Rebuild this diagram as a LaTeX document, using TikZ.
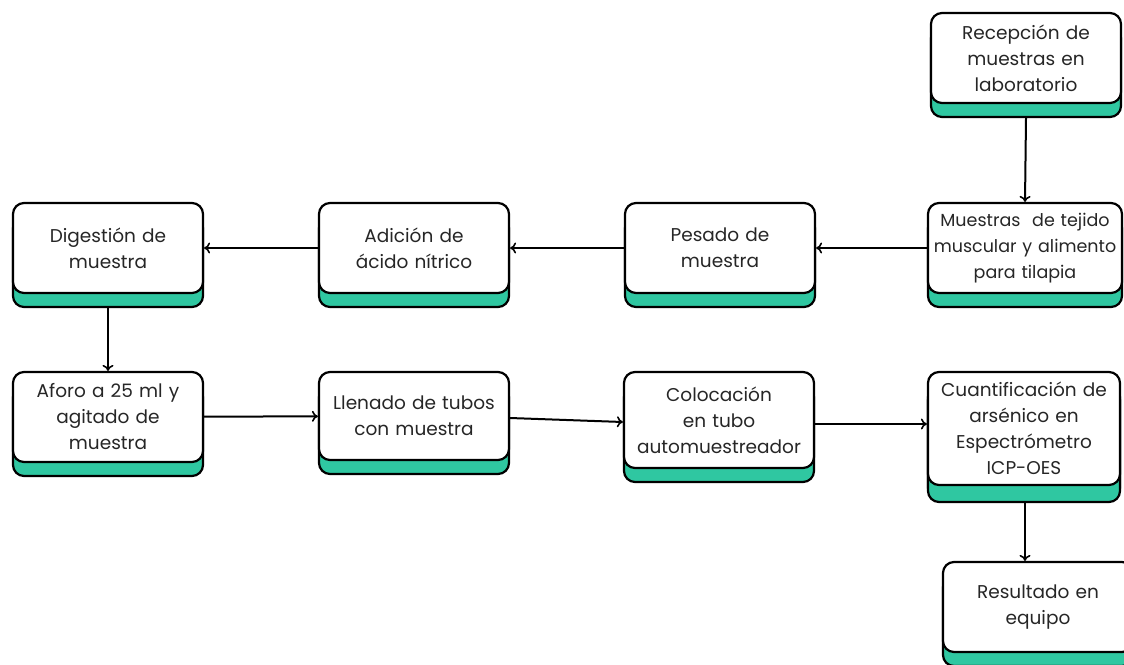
\documentclass[tikz,border=0pt]{standalone}
\usepackage{fontspec}
\setmainfont{Poppins}
\usetikzlibrary{arrows.meta,shadows}
\definecolor{tealbase}{RGB}{47,199,161}
\begin{document}
\begin{tikzpicture}[x=1pt,y=-1pt,
        paso/.style={draw, line width=2.2pt, rounded corners=11pt, fill=white, align=center,
        text width=190pt, minimum width=190pt, minimum height=90pt, inner sep=0pt,
        font=\fontsize{18.5}{26}\selectfont\color{black!85},
        general shadow={fill=tealbase, draw=black, line width=2.2pt, shadow yshift=-14pt}},
        flecha/.style={line width=2pt, -{To[length=6pt,width=11pt,line width=1.6pt]}}]
        \useasboundingbox (0,0) rectangle (1124,664);
        % fila de arriba
        \node[paso, minimum width=187pt] (recep) at (1026,58) {Recepción de\\ muestras en\\ laboratorio};
        \node[paso, text width=194pt, font=\fontsize{17.5}{26}\selectfont\color{black!85}] (muestras) at (1025,248) {Muestras \ de tejido\\ muscular y alimento\\ para tilapia};
        \node[paso] (pesado) at (720,248) {Pesado de\\ muestra};
        \node[paso] (adicion) at (414,248) {Adición de\\ ácido nítrico};
        \node[paso] (digestion) at (108,248) {Digestión de\\ muestra};
        % fila de abajo
        \node[paso] (aforo) at (108,417) {Aforo a 25 ml y\\ agitado de\\ muestra};
        \node[paso, minimum height=88pt] (llenado) at (414,416) {Llenado de tubos\\ con muestra};
        \node[paso, text width=188pt, minimum height=96pt] (coloca) at (719,420) {Colocación\\ en tubo\\ automuestreador};
        \node[paso, text width=192pt, minimum height=113pt, general shadow={fill=tealbase, draw=black, line width=2.2pt, shadow yshift=-17pt}] (cuanti) at (1024,428.5) {Cuantificación de\\ arsénico en\\ Espectrómetro\\ ICP-OES\\[14pt]};
        \node[paso] (resultado) at (1038,607) {Resultado en\\ equipo};
        % flechas
        \draw[flecha] ([yshift=-14pt]recep.south) -- (muestras.north);
        \draw[flecha] (muestras) -- (pesado);
        \draw[flecha] (pesado) -- (adicion);
        \draw[flecha] (adicion) -- (digestion);
        \draw[flecha] ([yshift=-14pt]digestion.south) -- (aforo.north);
        \draw[flecha] (aforo) -- (llenado);
        \draw[flecha] ([yshift=-2pt]llenado.east) -- ([yshift=-2pt]coloca.west);
        \draw[flecha] ([yshift=-4pt]coloca.east) -- ([yshift=-4pt]coloca.east -| cuanti.west);
        \draw[flecha] ([yshift=-17pt,xshift=1pt]cuanti.south) -- ([xshift=1pt]cuanti.south |- resultado.north);
    \end{tikzpicture}
\end{document}
